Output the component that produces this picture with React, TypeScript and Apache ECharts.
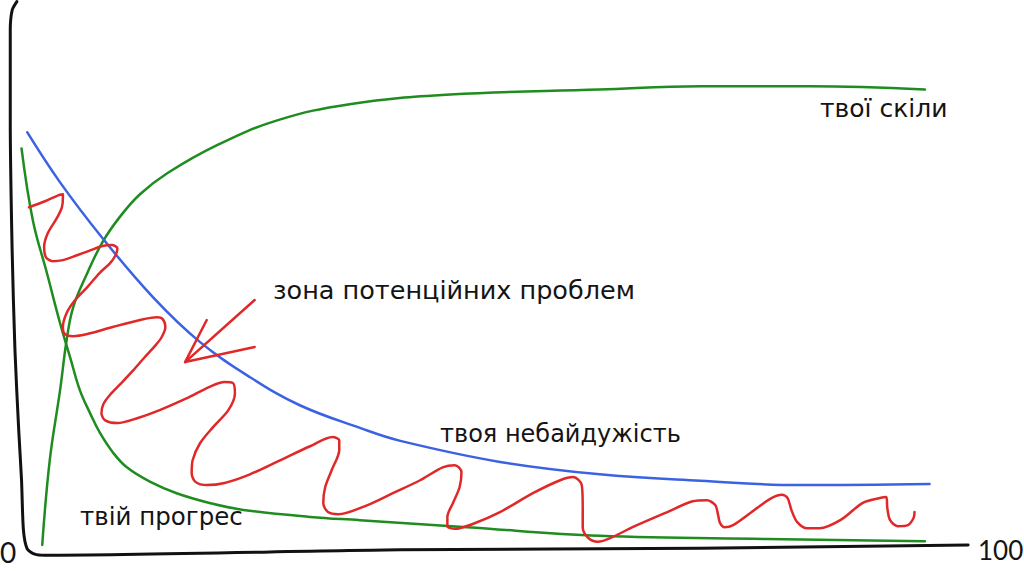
import React, { useEffect, useRef } from "react";
import * as echarts from "echarts";

// x: 0..100 (time), y: 0..100 (level)
const skillsCurve: [number, number][] = [
  [1.3, 0], [2.1, 15.7], [3.2, 28.7], [3.9, 38.0], [4.6, 44.1], [6.1, 50.4],
  [7.7, 56.1], [9.6, 60.9], [11.7, 65.0], [14.6, 68.9], [19.9, 74.1], [26.3, 78.7],
  [34.0, 81.7], [44.7, 83.5], [60.6, 84.4], [71.3, 85.0], [83.0, 85.0], [95.2, 84.4],
];

const careCurve: [number, number][] = [
  [-0.3, 76.5], [3.2, 67.2], [7.7, 56.9], [13.1, 45.9], [18.1, 37.6], [23.4, 31.1],
  [28.7, 25.9], [35.1, 21.7], [39.4, 19.3], [50.0, 15.4], [60.6, 13.1],
  [71.3, 11.9], [81.9, 11.1], [95.7, 11.3],
];

const progressCurve: [number, number][] = [
  [-0.9, 73.5], [0.3, 60.2], [1.8, 50.4], [3.2, 41.1], [4.3, 34.6], [5.3, 28.7],
  [6.4, 24.4], [7.4, 20.9], [8.8, 17.2], [10.3, 14.4], [12.8, 11.7], [15.6, 9.6],
  [19.1, 7.8], [22.7, 6.5], [29.8, 5.2], [35.1, 4.6],
  [46.5, 3.3], [60.6, 1.7], [78.4, 1.1], [95.2, 0.7],
];

const troubleSquiggle: [number, number][] = [
  [-0.1, 62.6], [1.6, 63.7], [3.0, 64.8], [3.5, 65.0], [3.5, 64.4], [3.4, 62.6],
  [2.9, 60.7], [1.9, 57.8], [1.5, 55.2], [1.7, 53.3], [2.4, 52.6], [3.5, 52.8],
  [5.0, 53.7], [6.4, 54.6], [7.7, 55.4], [8.7, 55.6], [9.3, 55.0], [9.1, 53.7],
  [8.5, 52.2], [7.4, 50.4], [6.1, 47.8], [4.8, 45.4], [3.9, 43.0], [3.5, 40.4],
  [3.7, 39.1], [4.6, 38.7], [6.1, 39.1], [8.8, 40.4], [11.7, 41.7], [13.5, 42.2],
  [14.1, 41.9], [14.4, 40.4], [14.0, 38.5], [13.3, 36.9], [12.2, 34.8], [11.0, 32.4],
  [9.6, 29.8], [8.5, 27.8], [7.8, 26.1], [7.6, 24.4], [8.0, 23.1], [9.3, 22.6], [11.4, 23.5],
  [13.8, 25.0], [16.7, 27.2], [19.1, 29.3], [20.7, 30.2], [21.6, 30.0], [21.8, 28.1],
  [21.1, 25.0], [19.5, 21.9], [18.1, 18.9], [17.3, 15.7], [17.2, 13.3], [17.6, 11.7],
  [18.8, 11.1], [20.7, 11.5], [23.4, 13.1], [26.6, 15.7], [29.8, 18.3], [32.2, 20.0],
  [32.9, 19.4], [32.9, 17.6], [32.1, 13.9], [31.4, 10.7], [31.2, 7.8], [31.7, 6.1],
  [32.8, 5.7], [35.9, 7.4], [38.6, 9.6], [41.5, 12.0], [43.9, 14.4], [45.2, 14.8],
  [45.9, 13.5], [45.7, 10.7], [45.0, 7.8], [44.4, 5.2], [44.4, 3.5], [45.2, 3.0],
  [47.1, 3.9], [50.0, 6.1], [53.5, 9.6], [56.4, 12.0], [57.8, 12.6], [58.7, 11.1],
  [58.8, 7.0], [58.8, 3.3], [59.4, 1.3], [60.4, 0.6], [62.0, 1.5], [64.1, 3.3],
  [67.8, 6.1], [70.5, 8.1], [72.0, 8.3], [72.9, 7.4], [73.2, 5.6], [73.4, 4.1],
  [73.9, 3.3], [74.8, 3.7], [76.6, 5.9], [78.7, 8.5], [80.0, 9.3], [80.6, 8.7],
  [81.0, 6.5], [81.6, 4.3], [82.7, 3.1], [84.0, 3.1], [86.2, 4.6], [88.6, 7.8],
  [90.4, 8.7], [91.1, 8.9], [91.2, 6.9], [91.5, 4.6], [92.3, 3.5], [93.4, 3.7],
  [94.0, 5.0], [94.1, 6.1],
];

const arrowLong: [number, number][] = [[23.9, 45.4], [16.5, 33.9], [23.9, 36.7]];
const arrowShort: [number, number][] = [[18.8, 41.7], [16.5, 33.9]];

const axisStroke: [number, number][] = [
  [-1.4, 100.7], [-1.9, 99.1], [-2.1, 95.4], [-2.1, 78.7], [-1.9, 54.6], [-1.6, 36.1],
  [-1.2, 21.3], [-0.9, 12.0], [-0.7, 2.8], [-0.3, -0.7], [0.5, -1.7], [1.6, -1.9],
  [39.4, -0.9], [71.3, -0.6], [99.8, 0],
];

const tickLabels = ["0", "100"];
const curveNames = ["твої скіли", "зона потенційних проблем", "твоя небайдужість", "твій прогрес"];

const GREEN = "#1f8c1f";
const BLUE = "#3a62e3";
const RED = "#e02828";

function lineSeries(name: string, data: [number, number][], color: string, width: number, smooth: number | boolean) {
  return {
    name,
    type: "line",
    data,
    smooth,
    symbol: "none",
    showSymbol: false,
    clip: false,
    silent: true,
    lineStyle: { color, width, cap: "round", join: "round" },
  };
}

export default function App() {
  const ref = useRef<HTMLDivElement>(null);
  useEffect(() => {
    document.body.style.margin = "0";
    const chart = echarts.init(ref.current!, null, { renderer: "svg" });
    const font = "DejaVu Sans";
    const txt = (text: string, x: number, y: number, size: number, family = font) => ({
      type: "text",
      x,
      y,
      silent: true,
      style: {
        text,
        fill: "#141414",
        font: `${size}px "${family}"`,
        textVerticalAlign: "middle",
        textAlign: "left",
      },
    });
    chart.setOption({
      animation: false,
      backgroundColor: "#ffffff",
      grid: { left: 1.8, right: 54, top: -0.4, bottom: 9.8 },
      xAxis: { type: "value", min: -3, max: 100, show: false },
      yAxis: { type: "value", min: -3, max: 101, show: false },
      series: [
        lineSeries("axis", axisStroke, "#111111", 3, 0.25),
        lineSeries(curveNames[0], skillsCurve, GREEN, 2.5, 0.4),
        lineSeries(curveNames[3], progressCurve, GREEN, 2.5, 0.4),
        lineSeries(curveNames[2], careCurve, BLUE, 2.5, 0.4),
        lineSeries(curveNames[1], troubleSquiggle, RED, 2.5, 0.3),
        lineSeries("arrow", arrowLong, RED, 2.5, false),
        lineSeries("arrow2", arrowShort, RED, 2.5, false),
      ],
      graphic: [
        txt(curveNames[0], 820, 108, 25),
        txt(curveNames[1], 273, 290, 25.5),
        txt(curveNames[2], 440, 434, 24),
        txt(curveNames[3], 80, 516, 24.5),
        txt(tickLabels[0], 0, 552, 28, "Lato"),
        txt(tickLabels[1], 978, 550, 26, "Lato"),
      ],
    });
    return () => chart.dispose();
  }, []);
  return <div ref={ref} style={{ width: 1024, height: 571 }} />;
}
